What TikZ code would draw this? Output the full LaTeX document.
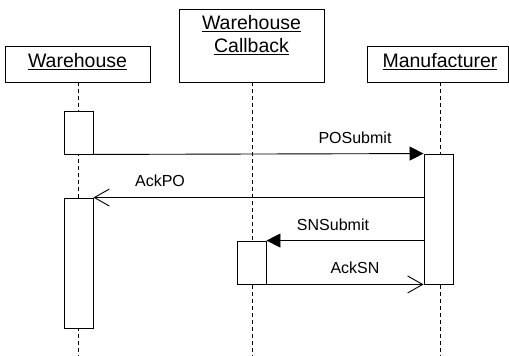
\documentclass[tikz,border=0pt]{standalone}
\usepackage{fontspec}
\setmainfont{Liberation Sans}
\usetikzlibrary{arrows.meta}
\begin{document}
\begin{tikzpicture}[x=1pt,y=-1pt,
  hdr/.style={draw,line width=0.9pt,minimum width=145pt,inner sep=0pt},
  hdrtext/.style={font=\fontsize{19.5}{23}\selectfont,align=center,inner sep=0pt},
  act/.style={draw,fill=white,line width=0.9pt,minimum width=29pt,inner sep=0pt},
  life/.style={dash pattern=on 4pt off 3pt,line width=0.9pt},
  msg/.style={line width=0.9pt},
  sync/.style={-{Triangle[length=14pt,width=14pt]}},
  reply/.style={-{Straight Barb[length=15pt,width=17pt,line width=0.9pt]}},
  lbl/.style={font=\fontsize{16}{19}\selectfont,inner sep=0pt}]
\useasboundingbox (0,0) rectangle (509,356);
% headers
\node[hdr,minimum height=36pt] (wh) at (77.5,64) {};
\node[hdrtext] (whT) at (77.5,62) {\underline{Warehouse}};
\node[hdr,minimum height=73pt] (cb) at (251.5,45.5) {};
\node[hdrtext,anchor=north] (cbT) at (251.5,15) {\underline{Warehouse}\\\underline{Callback}};
\node[hdr,minimum height=36pt,minimum width=141pt] (mf) at (437.5,64) {};
\node[hdrtext] (mfT) at (440,62) {\underline{Manufacturer}};
% lifeline ends
\coordinate (whE) at (78.5,356);
\coordinate (cbE) at (252,356);
\coordinate (mfE) at (440,356);
\draw[life] (wh.south -| whE) -- (whE);
\draw[life] (cb.south -| cbE) -- (cbE);
\draw[life] (mf.south -| mfE) -- (mfE);
% activations
\node[act,minimum height=43pt] (wa1) at (78.5,132.5) {};
\node[act,minimum height=130pt] (ma) at (438.5,219) {};
\node[act,minimum height=130pt] (wa2) at (78.5,263) {};
\node[act,minimum height=43pt] (ca) at (251.5,262.5) {};
% messages
\draw[msg,sync] (wa1.south east) -- (ma.north west);
\node[lbl] (l1) at (355,138) {POSubmit};
\draw[msg,reply] (ma.west |- wa2.north) -- (wa2.north east);
\node[lbl] (l2) at (160,181) {AckPO};
\draw[msg,sync] (ma.west |- ca.north) -- (ca.north east);
\node[lbl] (l3) at (333,225) {SNSubmit};
\draw[msg,reply] (ca.south east) -- (ma.south west);
\node[lbl] (l4) at (355,268) {AckSN};
\end{tikzpicture}
\end{document}
